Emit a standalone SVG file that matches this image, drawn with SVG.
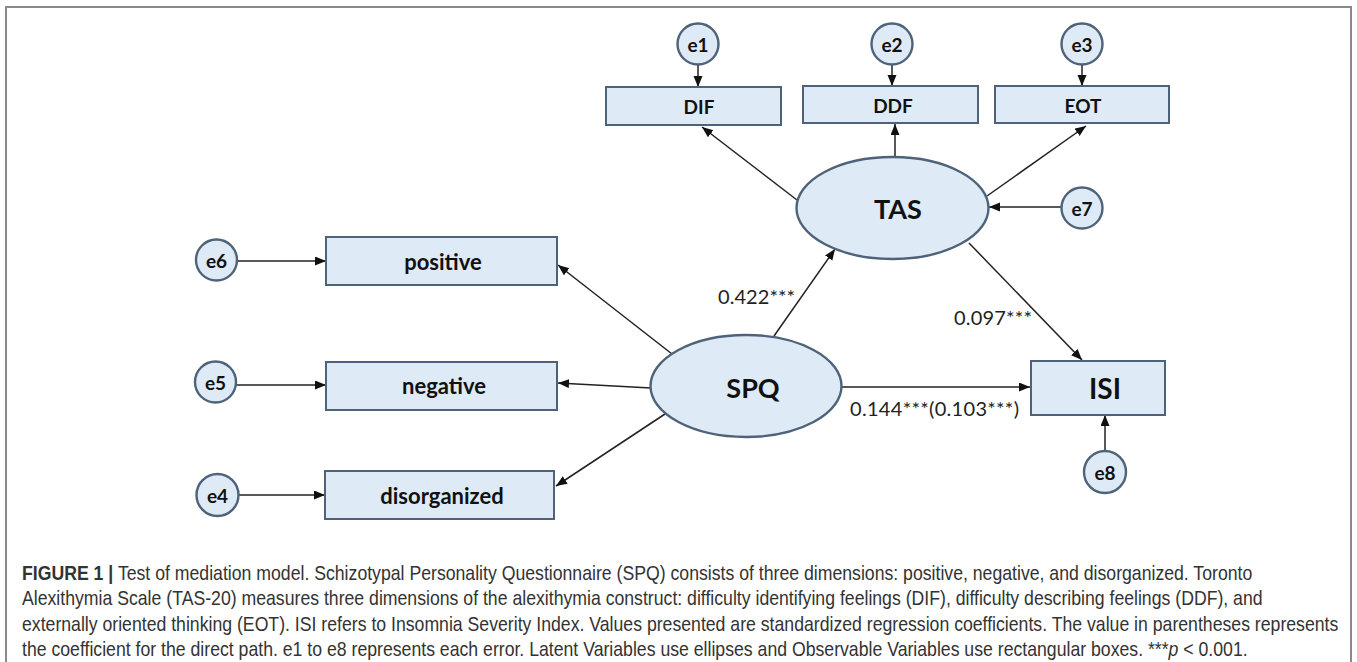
<svg xmlns="http://www.w3.org/2000/svg" width="1357" height="662" viewBox="0 0 1357 662">
<defs>
<marker id="arr" markerUnits="userSpaceOnUse" markerWidth="12" markerHeight="10" refX="11" refY="4.5" orient="auto">
<path d="M0,0 L11,4.5 L0,9 z" fill="#111"/>
</marker>
<style>
.nd{fill:#deeaf6;stroke:#4e6379;stroke-width:2.4}
.bx{fill:#deeaf6;stroke:#4e6379;stroke-width:2}
.lb{font-family:Lato,"Liberation Sans",sans-serif;font-weight:700;fill:#111;text-anchor:middle;dominant-baseline:central}
.cf{font-family:Lato,"Liberation Sans",sans-serif;font-size:20px;fill:#222}
.ln{stroke:#222;stroke-width:1.5;fill:none;marker-end:url(#arr)}
.cap{font-family:"Liberation Sans",Arial,sans-serif;font-size:20.5px;fill:#333}
</style>
</defs>
<rect x="6" y="7" width="1345" height="665" fill="#fff" stroke="#8a8a8a" stroke-width="2"/>

<g id="connectors">
<line class="ln" x1="698" y1="65" x2="698" y2="87"/>
<line class="ln" x1="892" y1="65" x2="892" y2="86"/>
<line class="ln" x1="1082" y1="65" x2="1082" y2="86"/>
<line class="ln" x1="797" y1="200" x2="702" y2="127"/>
<line class="ln" x1="895" y1="157" x2="895" y2="124"/>
<line class="ln" x1="987" y1="196" x2="1086" y2="126"/>
<line class="ln" x1="1061" y1="207" x2="989" y2="207"/>
<line class="ln" x1="774" y1="336" x2="835" y2="249"/>
<line class="ln" x1="969" y1="243" x2="1082" y2="360"/>
<line class="ln" x1="842" y1="387" x2="1030" y2="387"/>
<line class="ln" x1="1105" y1="451" x2="1105" y2="415"/>
<line class="ln" x1="672" y1="354" x2="558" y2="265"/>
<line class="ln" x1="651" y1="388" x2="558" y2="383"/>
<line class="ln" x1="665" y1="414" x2="556" y2="486"/>
<line class="ln" x1="237" y1="261" x2="326" y2="261"/>
<line class="ln" x1="236" y1="385" x2="326" y2="385"/>
<line class="ln" x1="238" y1="495" x2="325" y2="495"/>
<text class="cf" x="718" y="304" textLength="77">0.422***</text>
<text class="cf" x="954" y="325" textLength="78">0.097***</text>
<text class="cf" x="850" y="416" textLength="169">0.144***(0.103***)</text>
</g>

<g id="e1"><circle class="nd" cx="698" cy="44" r="20.5"/><text class="lb" x="698" y="44" font-size="19">e1</text></g>
<g id="e2"><circle class="nd" cx="892" cy="44" r="20.5"/><text class="lb" x="892" y="44" font-size="19">e2</text></g>
<g id="e3"><circle class="nd" cx="1082" cy="44" r="20.5"/><text class="lb" x="1082" y="44" font-size="19">e3</text></g>
<g id="DIF"><rect class="bx" x="606" y="87" width="175" height="38"/><text class="lb" x="699" y="106" font-size="19">DIF</text></g>
<g id="DDF"><rect class="bx" x="803" y="86" width="175" height="37"/><text class="lb" x="893" y="105" font-size="19">DDF</text></g>
<g id="EOT"><rect class="bx" x="995" y="86" width="174" height="37"/><text class="lb" x="1083" y="105" font-size="19">EOT</text></g>
<g id="TAS"><ellipse class="nd" cx="892.5" cy="208" rx="96" ry="51"/><text class="lb" x="898" y="208" font-size="27">TAS</text></g>
<g id="e7"><circle class="nd" cx="1082" cy="208" r="20.5"/><text class="lb" x="1082" y="208" font-size="19">e7</text></g>
<g id="SPQ"><ellipse class="nd" cx="746" cy="386" rx="95.5" ry="51"/><text class="lb" x="753" y="387" font-size="27">SPQ</text></g>
<g id="ISI"><rect class="bx" x="1031" y="361" width="134" height="54"/><text class="lb" x="1105" y="388" font-size="28">ISI</text></g>
<g id="e8"><circle class="nd" cx="1105" cy="472" r="21"/><text class="lb" x="1105" y="472" font-size="19">e8</text></g>
<g id="positive"><rect class="bx" x="326" y="237" width="231" height="48"/><text class="lb" x="443" y="261" font-size="22">positive</text></g>
<g id="negative"><rect class="bx" x="326" y="362" width="231" height="48"/><text class="lb" x="444" y="385" font-size="22">negative</text></g>
<g id="disorganized"><rect class="bx" x="325" y="471" width="229" height="48"/><text class="lb" x="442" y="495" font-size="22">disorganized</text></g>
<g id="e6"><circle class="nd" cx="216.5" cy="260" r="20.5"/><text class="lb" x="216.5" y="260" font-size="19">e6</text></g>
<g id="e5"><circle class="nd" cx="215.5" cy="382" r="20.5"/><text class="lb" x="215.5" y="382" font-size="19">e5</text></g>
<g id="e4"><circle class="nd" cx="217.5" cy="495" r="21"/><text class="lb" x="217.5" y="495" font-size="19">e4</text></g>

<g id="caption" transform="translate(22,0) scale(0.862,1)">
<text class="cap" x="0" y="580"><tspan font-weight="700">FIGURE 1 |</tspan> Test of mediation model. Schizotypal Personality Questionnaire (SPQ) consists of three dimensions: positive, negative, and disorganized. Toronto</text>
<text class="cap" x="0" y="605.5">Alexithymia Scale (TAS-20) measures three dimensions of the alexithymia construct: difficulty identifying feelings (DIF), difficulty describing feelings (DDF), and</text>
<text class="cap" x="0" y="631">externally oriented thinking (EOT). ISI refers to Insomnia Severity Index. Values presented are standardized regression coefficients. The value in parentheses represents</text>
<text class="cap" x="0" y="656">the coefficient for the direct path. e1 to e8 represents each error. Latent Variables use ellipses and Observable Variables use rectangular boxes. ***<tspan font-style="italic">p</tspan> &lt; 0.001.</text>
</g>
</svg>
